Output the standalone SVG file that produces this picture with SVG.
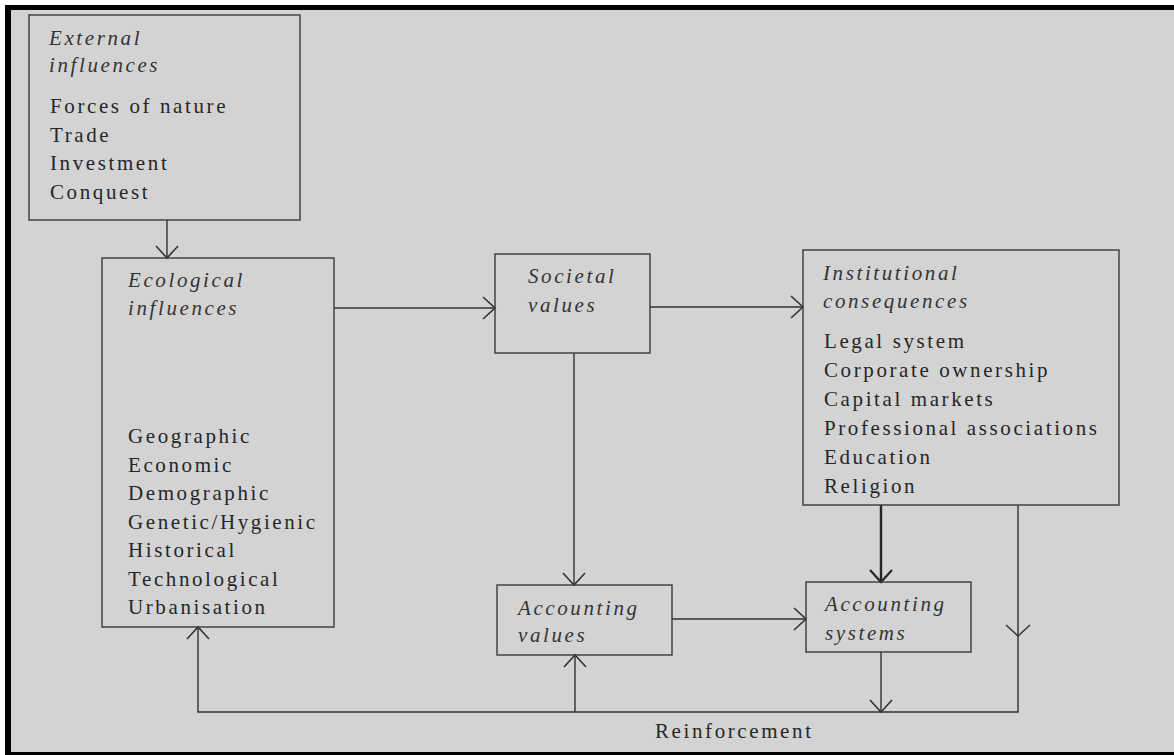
<svg xmlns="http://www.w3.org/2000/svg" width="1174" height="755" viewBox="0 0 1174 755">
  <style>
    .box { fill: none; stroke: #3a3a3a; stroke-width: 1.4; }
    .t { font-family: "Liberation Serif", "Times New Roman", serif; font-size: 21px; letter-spacing: 2.6px; fill: #262626; }
    .i { font-style: italic; fill: #333333; }
    .c { fill: none; stroke: #333333; stroke-width: 1.4; }
    .thick { stroke-width: 2.4; stroke: #262626; }
  </style>
  <defs>
    <marker id="arr" markerUnits="userSpaceOnUse" viewBox="-15 -14 17 28" markerWidth="17" markerHeight="28" refX="0" refY="0" orient="auto">
      <path d="M-12,-11 L0,0 L-12,11" fill="none" stroke="#333333" stroke-width="1.6"/>
    </marker>
    <marker id="arrT" markerUnits="userSpaceOnUse" viewBox="-15 -14 17 28" markerWidth="17" markerHeight="28" refX="0" refY="0" orient="auto">
      <path d="M-12,-11 L0,0 L-12,11" fill="none" stroke="#262626" stroke-width="2.2"/>
    </marker>
  </defs>

  <rect x="0" y="0" width="1174" height="755" fill="#ffffff"/>
  <rect x="5" y="5" width="1169" height="750" fill="#000000"/>
  <rect x="11" y="10" width="1163" height="742" fill="#d3d3d3"/>

  <g id="connectors">
    <line class="c" x1="167" y1="220" x2="167" y2="258" marker-end="url(#arr)"/>
    <line class="c" x1="334" y1="308" x2="495" y2="308" marker-end="url(#arr)"/>
    <line class="c" x1="650" y1="307" x2="803" y2="307" marker-end="url(#arr)"/>
    <line class="c" x1="574" y1="353" x2="574" y2="585" marker-end="url(#arr)"/>
    <line class="c" x1="672" y1="619" x2="806" y2="619" marker-end="url(#arr)"/>
    <line class="c thick" x1="881" y1="505" x2="881" y2="582" marker-end="url(#arrT)"/>
    <path class="c" d="M1018,505 V712 H198 V627" marker-end="url(#arr)"/>
    <path class="c" d="M1006,625 L1018,636 L1030,625" stroke-width="1.6"/>
    <line class="c" x1="881" y1="652" x2="881" y2="712" marker-end="url(#arr)"/>
    <line class="c" x1="575" y1="712" x2="575" y2="655" marker-end="url(#arr)"/>
    <text class="t" x="655" y="738">Reinforcement</text>
  </g>

  <g id="external">
    <rect class="box" x="29" y="15" width="271" height="205"/>
    <text class="t i" x="49" y="45">External</text>
    <text class="t i" x="49" y="72">influences</text>
    <text class="t" x="50" y="113">Forces of nature</text>
    <text class="t" x="50" y="142">Trade</text>
    <text class="t" x="50" y="170">Investment</text>
    <text class="t" x="50" y="199">Conquest</text>
  </g>

  <g id="ecological">
    <rect class="box" x="102" y="258" width="232" height="369"/>
    <text class="t i" x="128" y="287">Ecological</text>
    <text class="t i" x="128" y="315">influences</text>
    <text class="t" x="128" y="443">Geographic</text>
    <text class="t" x="128" y="471.5">Economic</text>
    <text class="t" x="128" y="500">Demographic</text>
    <text class="t" x="128" y="528.5">Genetic/Hygienic</text>
    <text class="t" x="128" y="557">Historical</text>
    <text class="t" x="128" y="585.5">Technological</text>
    <text class="t" x="128" y="614">Urbanisation</text>
  </g>

  <g id="societal">
    <rect class="box" x="495" y="254" width="155" height="99"/>
    <text class="t i" x="528" y="283">Societal</text>
    <text class="t i" x="528" y="312">values</text>
  </g>

  <g id="institutional">
    <rect class="box" x="803" y="250" width="316" height="255"/>
    <text class="t i" x="823" y="280">Institutional</text>
    <text class="t i" x="823" y="308">consequences</text>
    <text class="t" x="824" y="348">Legal system</text>
    <text class="t" x="824" y="377">Corporate ownership</text>
    <text class="t" x="824" y="406">Capital markets</text>
    <text class="t" x="824" y="435">Professional associations</text>
    <text class="t" x="824" y="464">Education</text>
    <text class="t" x="824" y="493">Religion</text>
  </g>

  <g id="accounting-values">
    <rect class="box" x="497" y="585" width="175" height="70"/>
    <text class="t i" x="518" y="615">Accounting</text>
    <text class="t i" x="518" y="642">values</text>
  </g>

  <g id="accounting-systems">
    <rect class="box" x="806" y="582" width="165" height="70"/>
    <text class="t i" x="825" y="611">Accounting</text>
    <text class="t i" x="825" y="640">systems</text>
  </g>
</svg>
